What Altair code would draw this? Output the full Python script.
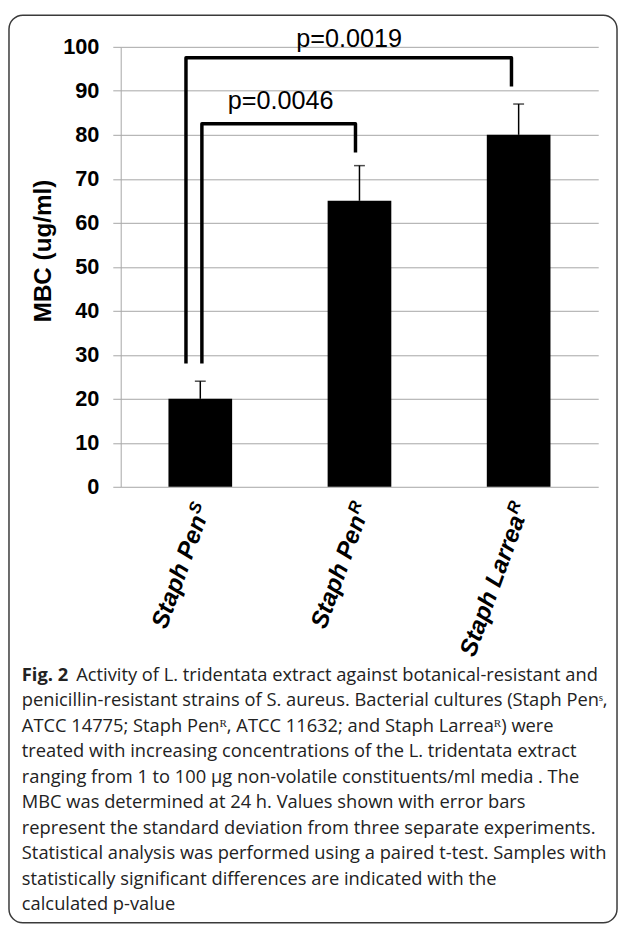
import altair as alt
import pandas as pd

# ---------------- data ----------------
strain_ids = ["Staph PenS", "Staph PenR", "Staph LarreaR"]
strain_base = ["Staph Pen", "Staph Pen", "Staph Larrea"]
strain_sup = ["S", "R", "R"]
mbc = [20, 65, 80]
sd = [4, 8, 7]

y_ticks = [0, 10, 20, 30, 40, 50, 60, 70, 80, 90, 100]

# significance brackets (x in bar-slot units: bar i is centred at i + 0.5)
bracket_id = ["a", "a", "a", "a", "b", "b", "b", "b"]
bracket_x = [0.41, 0.41, 2.455, 2.455, 0.51, 0.51, 1.475, 1.475]
bracket_y = [28, 97.5, 97.5, 91, 28, 82.5, 82.5, 76]
bracket_ord = [0, 1, 2, 3, 0, 1, 2, 3]

p_text = ["p=0.0019", "p=0.0046"]
p_x = [1.435, 1.005]
p_y = [100, 85.8]

caption_bold = "Fig. 2"
caption_first = "Activity of L. tridentata extract against botanical-resistant and"
caption_rest = [
    "penicillin-resistant strains of S. aureus. Bacterial cultures (Staph Penˢ,",
    "ATCC 14775; Staph Penᴿ, ATCC 11632; and Staph Larreaᴿ) were",
    "treated with increasing concentrations of the L. tridentata extract",
    "ranging from 1 to 100 μg non-volatile constituents/ml media . The",
    "MBC was determined at 24 h. Values shown with error bars",
    "represent the standard deviation from three separate experiments.",
    "Statistical analysis was performed using a paired t-test. Samples with",
    "statistically significant differences are indicated with the",
    "calculated p-value",
]

W, H = 483, 445
GRID = "#a6a6a6"
AX_FONT = "Liberation Sans"
CAP_FONT = "Open Sans"
CAP_SIZE = 18.5
CAP_LH = 25.8
CAP_Y0 = 683 - 42  # first caption baseline relative to plot top

df = pd.DataFrame({
    "strain": strain_ids,
    "base": strain_base,
    "sup": strain_sup,
    "mbc": mbc,
    "upper": [m + s for m, s in zip(mbc, sd)],
})
brackets = pd.DataFrame({"bid": bracket_id, "bx": bracket_x, "by": bracket_y, "bo": bracket_ord})
pdf = pd.DataFrame({"t": p_text, "px": p_x, "py": p_y})

xband = alt.X(
    "strain:N",
    sort=strain_ids,
    scale=alt.Scale(paddingInner=0.6, paddingOuter=0.3),
    axis=None,
)
yscale = alt.Scale(domain=[0, 100], nice=False)
YT = "MBC (ug/ml)"

base = alt.Chart(df)

bars = base.mark_bar(color="black").encode(
    x=xband,
    y=alt.Y(
        "mbc:Q",
        scale=yscale,
        title=YT,
        axis=alt.Axis(
            values=y_ticks,
            grid=True,
            gridColor=GRID,
            gridWidth=1,
            domainColor=GRID,
            domainWidth=1,
            tickColor=GRID,
            tickSize=8,
            labelFont=AX_FONT,
            labelFontSize=22,
            labelFontWeight="bold",
            labelColor="black",
            labelPadding=14,
            titleFont=AX_FONT,
            titleFontSize=24.5,
            titleFontWeight="bold",
            titleColor="black",
            titlePadding=7,
            titleY=206,
        ),
    ),
)

err = base.mark_rule(color="black", strokeWidth=1.5).encode(
    x=xband, y=alt.Y("mbc:Q", scale=yscale, title=YT), y2="upper:Q"
)
cap = base.mark_tick(color="black", thickness=1.5, size=11).encode(
    x=xband, y=alt.Y("upper:Q", scale=yscale, title=YT)
)

lab_main = base.mark_text(
    angle=290, align="right", baseline="middle", font=AX_FONT, fontSize=24.5,
    fontWeight="bold", fontStyle="italic", color="black",
).encode(x=xband, y=alt.value(H + 30), text="base:N")

lab_sup = base.mark_text(
    angle=290, align="left", baseline="middle", font=AX_FONT, fontSize=17,
    fontWeight="bold", fontStyle="italic", color="black", dy=-7, dx=1,
).encode(x=xband, y=alt.value(H + 30), text="sup:N")

xq = alt.X("bx:Q", scale=alt.Scale(domain=[0, 3], nice=False, zero=False), axis=None)

br = alt.Chart(brackets).mark_line(
    color="black", strokeWidth=3.5, strokeJoin="round", strokeCap="butt"
).encode(
    x=xq,
    y=alt.Y("by:Q", scale=yscale, title=YT),
    detail="bid:N",
    order="bo:Q",
)

ptxt = alt.Chart(pdf).mark_text(
    font=AX_FONT, fontSize=25.5, align="center", baseline="alphabetic", color="black"
).encode(
    x=alt.X("px:Q", scale=alt.Scale(domain=[0, 3], nice=False, zero=False), axis=None),
    y=alt.Y("py:Q", scale=yscale, title=YT),
    text="t:N",
)

one = alt.Chart(pd.DataFrame({"k": [0]}))

frame = one.mark_rect(
    fillOpacity=0, stroke="#3a3a3a", strokeWidth=1.5, cornerRadius=14
).encode(
    x=alt.value(-113), x2=alt.value(502), y=alt.value(-32), y2=alt.value(886)
)

cap_b = one.mark_text(
    font=CAP_FONT, fontSize=CAP_SIZE, fontWeight="bold", align="left",
    baseline="alphabetic", color="#222222",
).encode(x=alt.value(-100), y=alt.value(CAP_Y0), text=alt.value(caption_bold))

cap_1 = one.mark_text(
    font=CAP_FONT, fontSize=CAP_SIZE, align="left", baseline="alphabetic",
    color="#222222", dx=55,
).encode(x=alt.value(-100), y=alt.value(CAP_Y0), text=alt.value(caption_first))

cap_r = one.mark_text(
    font=CAP_FONT, fontSize=CAP_SIZE, align="left", baseline="alphabetic",
    color="#222222", lineHeight=CAP_LH,
).encode(x=alt.value(-100), y=alt.value(CAP_Y0 + CAP_LH), text=alt.value(caption_rest))

chart = (
    alt.layer(frame, bars, err, cap, br, ptxt, lab_main, lab_sup, cap_b, cap_1, cap_r)
    .resolve_scale(x="independent")
    .properties(
        width=W,
        height=H,
        autosize=alt.AutoSizeParams(type="none"),
        padding={"left": 114, "top": 34, "right": 20, "bottom": 442},
        background="white",
    )
    .configure_view(stroke=None)
)

chart.save("out.html", embed_options={"renderer": "svg", "actions": False})
